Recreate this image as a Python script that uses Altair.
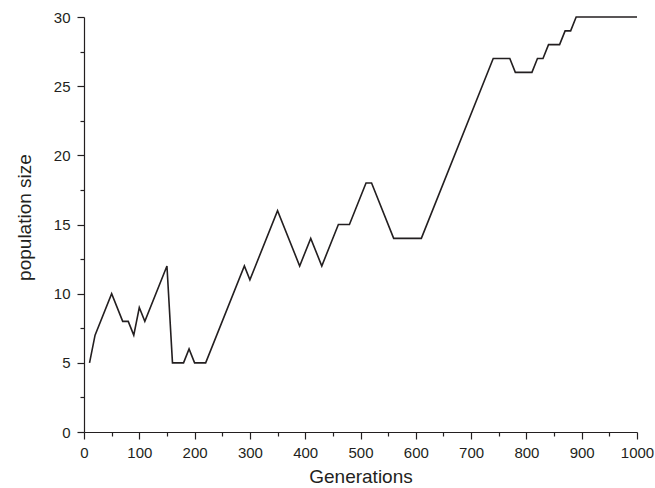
import altair as alt
import pandas as pd

generations = [10, 20, 50, 70, 80, 90, 100, 110, 150, 160, 180, 190, 200, 220,
               290, 300, 350, 390, 410, 430, 460, 480, 510, 520, 560, 610,
               740, 770, 780, 810, 820, 830, 840, 860, 870, 880, 890, 1000]
population = [5, 7, 10, 8, 8, 7, 9, 8, 12, 5, 5, 6, 5, 5,
              12, 11, 16, 12, 14, 12, 15, 15, 18, 18, 14, 14,
              27, 27, 26, 26, 27, 27, 28, 28, 29, 29, 30, 30]

x_major = list(range(0, 1001, 100))
x_minor = list(range(50, 1000, 100))
y_major = [0, 5, 10, 15, 20, 25, 30]
y_minor = [2.5, 7.5, 12.5, 17.5, 22.5, 27.5]

df = pd.DataFrame({"g": generations, "p": population})

FONT = "Liberation Sans"
INK = "#231f20"

xscale = alt.Scale(domain=[0, 1000], nice=False, zero=False)
yscale = alt.Scale(domain=[0, 30], nice=False)

main = alt.Chart(df).mark_line(color=INK, strokeWidth=1.6).encode(
    x=alt.X("g:Q", scale=xscale, title="Generations",
            axis=alt.Axis(values=x_major, format="d", orient="bottom", grid=False, tickSize=7,
                          tickColor=INK, domainColor=INK, tickWidth=1.2, domainWidth=1.2,
                          labelFont=FONT, labelFontSize=15, labelColor=INK, labelPadding=6,
                          titleFont=FONT, titleFontSize=19, titleFontWeight="normal",
                          titleColor=INK, titlePadding=7, labelFlush=False)),
    y=alt.Y("p:Q", scale=yscale, title="population size",
            axis=alt.Axis(values=y_major, format="d", orient="left", grid=False, tickSize=7,
                          tickColor=INK, domainColor=INK, tickWidth=1.2, domainWidth=1.2,
                          labelFont=FONT, labelFontSize=15, labelColor=INK, labelPadding=7,
                          titleFont=FONT, titleFontSize=19, titleFontWeight="normal",
                          titleColor=INK, titlePadding=19, titleY=200, labelFlush=False)),
)

minor = alt.Chart(df).mark_line(opacity=0).encode(
    x=alt.X("g:Q", scale=xscale, title=None,
            axis=alt.Axis(values=x_minor, orient="bottom", grid=False, tickSize=4,
                          tickColor=INK, tickWidth=1.2, domain=False, labels=False)),
    y=alt.Y("p:Q", scale=yscale, title=None,
            axis=alt.Axis(values=y_minor, orient="left", grid=False, tickSize=4,
                          tickColor=INK, tickWidth=1.2, domain=False, labels=False)),
)

chart = alt.layer(main, minor).resolve_axis(x="independent", y="independent").properties(
    width=553, height=415,
    autosize=alt.AutoSizeParams(type="none"),
    padding={"left": 84, "top": 17, "right": 18, "bottom": 56},
    background="white",
).configure_view(stroke=None)

chart.save("out.html", embed_options={"renderer": "svg", "actions": False})
